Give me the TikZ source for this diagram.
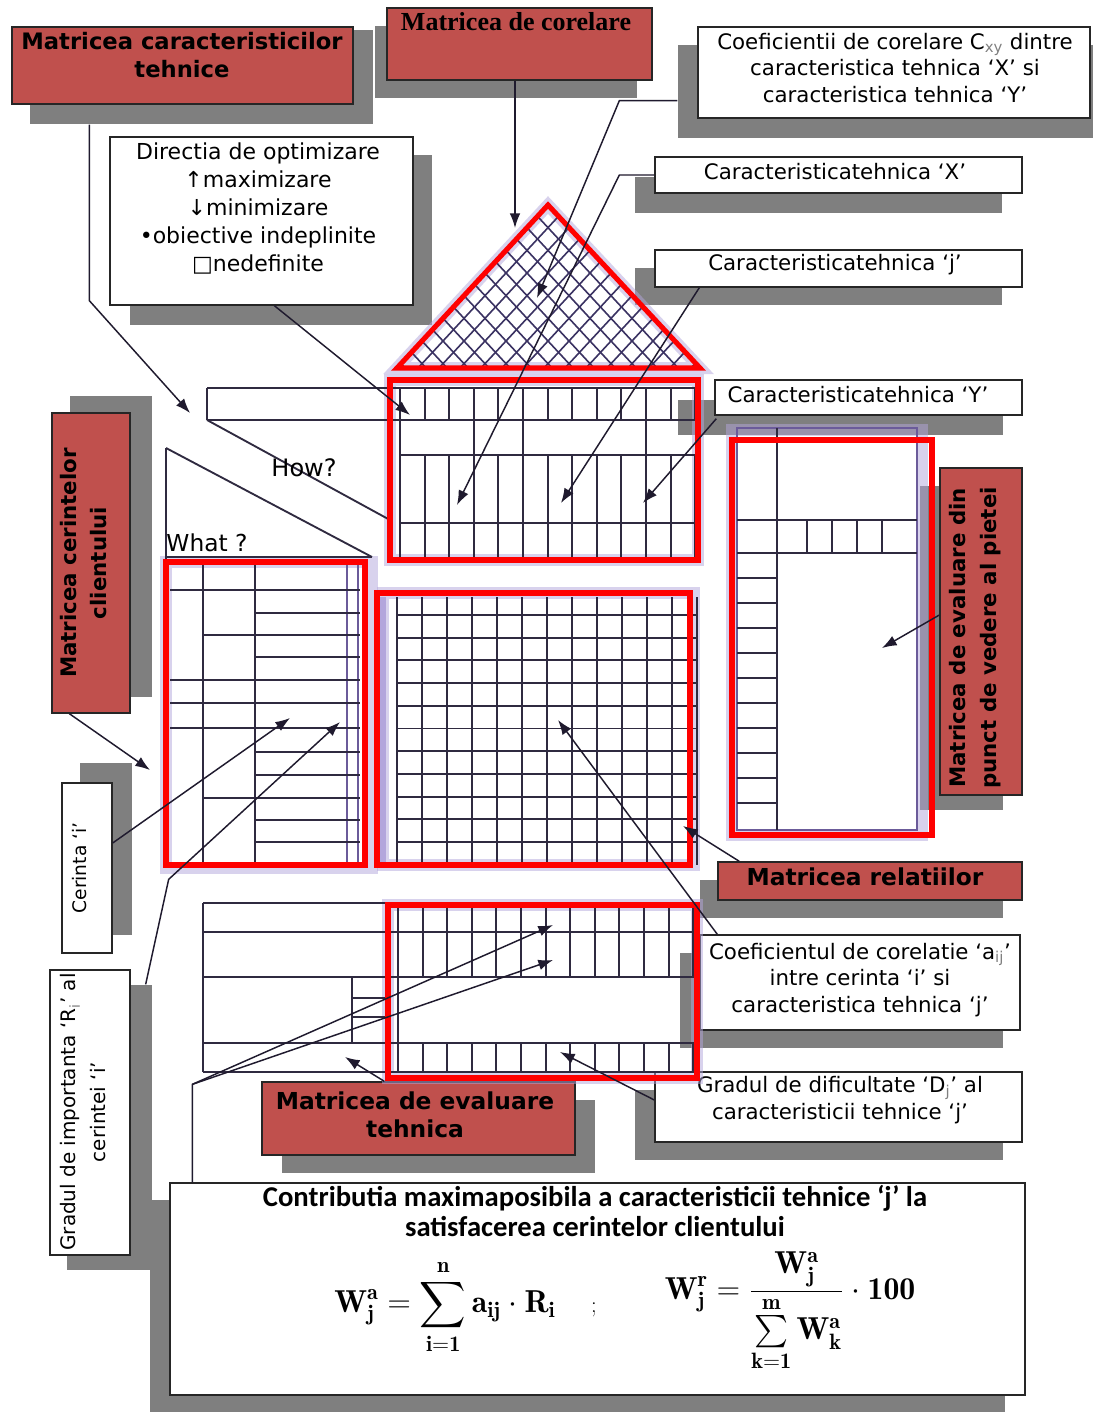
\documentclass[tikz,border=0pt]{standalone}
\usepackage{fontspec}
\usepackage{amsmath}
\usetikzlibrary{arrows.meta,calc}
\newfontfamily\lab{DejaVu Sans}
\newfontfamily\ttl{Carlito}
\newfontfamily\srf{Liberation Serif}
\newcommand\fs[2]{\fontsize{#1}{#2}\selectfont}
\newcommand\bb[1]{\mathbf{#1}}
\newcommand\formA{$\displaystyle\bb{W}^{\bb{a}}_{\bb{j}}=\sum_{\bb{i=1}}^{\bb{n}}\bb{a}_{\bb{ij}}\cdot\bb{R}_{\bb{i}}$}
\newcommand\formB{$\displaystyle\bb{W}^{\bb{r}}_{\bb{j}}=\frac{\bb{W}^{\bb{a}}_{\bb{j}}}{\sum\limits_{\bb{k=1}}^{\bb{m}}\bb{W}^{\bb{a}}_{\bb{k}}}\cdot\bb{100}$}
\definecolor{boxred}{HTML}{C0504D}
\definecolor{shgray}{HTML}{7F7F7F}
\definecolor{gline}{HTML}{2F2A40}
\definecolor{pline}{HTML}{6B5B9A}
\definecolor{glow}{HTML}{B3A6DC}
\definecolor{aline}{HTML}{1F1A2E}
\definecolor{hatchc}{HTML}{3A3262}
\tikzset{
  sz/.style 2 args={minimum width=#1*0.75pt, minimum height=#2*0.75pt},
  redbox/.style={draw=black!85, line width=1pt, fill=boxred, inner sep=0pt},
  whitebox/.style={draw=black!85, line width=1pt, fill=white, inner sep=0pt},
  shd/.style={fill=shgray},
  gl/.style={draw=gline, line width=1.4pt},
  pl/.style={draw=pline, line width=1.4pt},
  redg/.style={draw=red, line width=3.8pt},
  glowst/.style={draw=glow, line width=9pt, opacity=0.5},
  hatch/.style={draw=hatchc, line width=1.2pt},
  arr/.style={draw=aline, line width=1.1pt, -{Latex[length=11pt,width=8pt]}},
  txt/.style={inner sep=0pt, align=center, font=\lab\fs{16}{20}},
  btxt/.style={inner sep=0pt, align=center, font=\lab\bfseries\fs{17}{21}},
  fml/.style={inner sep=0pt, font=\rmfamily\fs{17}{21}},
}
\begin{document}
\begin{tikzpicture}[x=0.75pt,y=-0.75pt]
\useasboundingbox (0,0) rectangle (1093,1412);
\fill[white] (0,0) rectangle (1093,1412);

% ---------------- shadows ----------------
\fill[shd] (30,30) rectangle (373,124);
\fill[shd] (375,26) rectangle (637,98);
\fill[shd] (678,45) rectangle (1093,138);
\fill[shd] (130,155) rectangle (432,325);
\fill[shd] (635,177) rectangle (1002,213);
\fill[shd] (635,268) rectangle (1002,305);
\fill[shd] (678,400) rectangle (1003,435);
\fill[shd] (70,396) rectangle (152,697);
\fill[shd] (80,763) rectangle (132,935);
\fill[shd] (67,985) rectangle (152,1270);
\fill[shd] (920,486) rectangle (1003,810);
\fill[shd] (700,880) rectangle (1003,918);
\fill[shd] (680,953) rectangle (1003,1048);
\fill[shd] (635,1090) rectangle (1003,1160);
\fill[shd] (282,1100) rectangle (595,1173);
\fill[shd] (150,1200) rectangle (1005,1412);

% ---------------- boxes ----------------
\node[redbox, sz={341}{77}] (A) at (182.5,65.5) {};
\node[btxt] (At) at (182,55) {Matricea caracteristicilor\\tehnice};

\node[redbox, sz={265}{72}] (B) at (519.5,44) {};
\node[inner sep=0pt, font=\srf\bfseries\fs{19.5}{21}] (Bt) at (516,22) {Matricea de corelare};

\node[whitebox, sz={392}{91}] (C) at (894,72.5) {};
\node[txt] (Ct) at (895,68) {Coeficientii de corelare C\textsubscript{\color{gray}xy} dintre\\caracteristica tehnica ‘X’ si\\caracteristica tehnica ‘Y’};

\node[whitebox, sz={303}{168}] (D) at (261.5,221) {};
\node[txt, font=\lab\fs{16.5}{21}] (Dt) at (258,208) {Directia de optimizare\\↑maximizare\\↓minimizare\\•obiective indeplinite\\□nedefinite};

\node[whitebox, sz={367}{36}] (E) at (838.5,175) {};
\node[txt] (Et) at (835,172) {Caracteristicatehnica ‘X’};

\node[whitebox, sz={367}{37}] (F) at (838.5,268.5) {};
\node[txt] (Ft) at (835,265) {Caracteristicatehnica ‘j’};

\node[whitebox, sz={307}{35}] (G) at (868.5,397.5) {};
\node[txt] (Gt) at (858,395) {Caracteristicatehnica ‘Y’};

\node[redbox, sz={78}{300}] (H) at (91,563) {};
\node[btxt, font=\lab\bfseries\fs{16}{22.5}, rotate=90] (Ht) at (84,563) {Matricea cerintelor\\clientului};

\node[whitebox, sz={50}{170}] (I) at (87,868) {};
\node[txt, font=\lab\fs{14}{20}, rotate=90] (It) at (80,868) {Cerinta ‘i’};

\node[whitebox, sz={80}{285}] (J) at (90,1112.5) {};
\node[txt, font=\lab\fs{15}{22}, rotate=90] (Jt) at (83,1112) {Gradul de importanta ‘R\textsubscript{\color{gray}i}’ al\\cerintei ‘i’};

\node[redbox, sz={82}{327}] (K) at (981,631.5) {};
\node[btxt, font=\lab\bfseries\fs{16}{23}, rotate=90] (Kt) at (975,638) {Matricea de evaluare din\\punct de vedere al pietei};

\node[redbox, sz={304}{38}] (L) at (870,881) {};
\node[btxt, font=\lab\bfseries\fs{17.5}{21}] (Lt) at (865,877) {Matricea relatiilor};

\node[whitebox, sz={320}{95}] (M) at (860,982.5) {};
\node[txt] (Mt) at (860,980) {Coeficientul de corelatie ‘a\textsubscript{\color{gray}ij}’\\intre cerinta ‘i’ si\\caracteristica tehnica ‘j’};

\node[whitebox, sz={367}{70}] (N) at (838.5,1107) {};
\node[txt] (Nt) at (840,1100) {Gradul de dificultate ‘D\textsubscript{\color{gray}j}’ al\\caracteristicii tehnice ‘j’};

\node[redbox, sz={313}{73}] (O) at (418.5,1118.5) {};
\node[btxt, font=\lab\bfseries\fs{17.5}{21}] (Ot) at (415,1115) {Matricea de evaluare\\tehnica};

\node[whitebox, sz={855}{212}] (P) at (597.5,1289) {};
\node[inner sep=0pt, align=center, font=\ttl\bfseries\fs{21.5}{22}] (Pt) at (595,1211) {Contributia maximaposibila a caracteristicii tehnice ‘j’ la\\satisfacerea cerintelor clientului};
\node[fml] (Fa) at (445,1307) {\scalebox{1.4}{\formA}};
\node[fml] (Fsemi) at (594,1310) {;};
\node[fml] (Fb) at (790,1312) {\scalebox{1.4}{\formB}};

% ---------------- glow ----------------
\draw[glowst] (397,368) -- (548,205) -- (700,368) -- cycle;
\draw[glowst] (390,380) rectangle (698,560);
\draw[glowst] (166,562) rectangle (372,868);
\draw[glowst] (383,593) rectangle (694,865);
\draw[glowst] (732,430) rectangle (922,835);
\draw[glowst] (388,905) rectangle (697,1078);

% ---------------- triangle (correlation matrix) ----------------
\begin{scope}
\clip (397,368) -- (548,205) -- (700,368) -- cycle;
\foreach \i in {-10,...,18} {
  \draw[hatch] ({548+21*\i+151},42) -- ({548+21*\i-302},531);
  \draw[hatch] ({548-21*\i-151},42) -- ({548-21*\i+302},531);
}
\end{scope}
\draw[redg, line join=miter] (397,368) -- (548,205) -- (700,368) -- cycle;

% ---------------- top grid (How?) ----------------
\draw[gl] (207,388) -- (698,388);
\draw[gl] (207,420) -- (698,420);
\draw[gl] (207,388) -- (207,420);
\draw[gl] (400,455) -- (698,455);
\draw[gl] (400,523) -- (698,523);
\foreach \k in {0,...,12} {
  \draw[gl] ({400+24.6*\k},388) -- ({400+24.6*\k},420);
  \draw[gl] ({400+24.6*\k},455) -- ({400+24.6*\k},560);
}
\foreach \k in {0,3,5,10} \draw[gl] ({400+24.6*\k},420) -- ({400+24.6*\k},455);
\draw[gl] (207,420) -- (390,520);
\node[txt, font=\lab\fs{18}{20}] (how) at (304,468) {How?};
\draw[redg] (390,380) rectangle (698,560);

% ---------------- left grid (What?) ----------------
\draw[gl] (166,448) -- (166,560);
\draw[gl] (166,448) -- (372,557);
\draw[gl] (166,557) -- (372,557);
\node[txt, font=\lab\fs{17.5}{20}] (what) at (207,543) {What ?};
\draw[gl] (203,562) -- (203,865);
\draw[gl] (255,562) -- (255,865);
\draw[pl] (347,562) -- (347,865);
\draw[pl] (358,562) -- (358,865);
\foreach \y/\xs in {590/170,613/255,635/203,657/255,680/170,703/170,728/170,752/255,775/255,798/203,820/255,842/255}
  \draw[gl] (\xs,\y) -- (360,\y);
\draw[redg] (166,562) rectangle (365,865);

% ---------------- central grid (relations) ----------------
\draw[glow, line width=5pt] (383,597) -- (383,868);
\foreach \k in {0,...,12} \draw[gl] ({397+25*\k},597) -- ({397+25*\k},865);
\foreach \j in {0,...,10} \draw[gl] (397,{615+22.7*\j}) -- (697,{615+22.7*\j});
\draw[redg] (377,593) rectangle (690,865);

% ---------------- right grid (market evaluation) ----------------
\draw[pl] (737,428) rectangle (917,830);
\draw[gl] (777,428) -- (777,830);
\draw[gl] (737,520) -- (917,520);
\draw[gl] (737,553) -- (917,553);
\foreach \x in {807,832,857,882} \draw[gl] (\x,520) -- (\x,553);
\foreach \j in {0,...,9} \draw[gl] (737,{578+25*\j}) -- (777,{578+25*\j});
\draw[redg] (732,440) rectangle (932,835);

% ---------------- bottom grid (technical evaluation) ----------------
\foreach \y in {903,932,977,1043,1072} \draw[gl] (203,\y) -- (697,\y);
\draw[gl] (203,903) -- (203,1072);
\draw[gl] (352,977) -- (352,1043);
\draw[gl] (352,998) -- (390,998);
\draw[gl] (352,1017) -- (390,1017);
\foreach \k in {0,...,12} {
  \draw[gl] ({398+24.6*\k},905) -- ({398+24.6*\k},977);
  \draw[gl] ({398+24.6*\k},1043) -- ({398+24.6*\k},1072);
}
\draw[gl] (398,905) -- (398,1072);
\draw[redg] (388,905) rectangle (697,1078);

% ---------------- connector targets ----------------
\coordinate (tTri) at (537,298);
\coordinate (tX) at (457,505);
\coordinate (tY1) at (561,503);
\coordinate (tY2) at (643,503);
\coordinate (tB) at (515,228);
\coordinate (tBar) at (190,413);
\coordinate (tD) at (410,415);
\coordinate (tH) at (150,770);
\coordinate (tI) at (290,718);
\coordinate (tJ) at (340,722);
\coordinate (tK) at (882,648);
\coordinate (tL) at (683,826);
\coordinate (tM) at (558,720);
\coordinate (tN) at (560,1052);
\coordinate (tO) at (345,1057);
\coordinate (tP1) at (553,925);
\coordinate (tP2) at (553,960);

% ---------------- connectors ----------------
\draw[arr] ($(B.south)+(-4.5,0)$) -- (tB);
\draw[arr] ($(A.south west)+(78,20)$) -- ++(0,176) -- (tBar);
\draw[arr] ($(D.south west)+(165,0)$) -- (tD);
\draw[arr] ($(C.south west)+(-20,-18)$) -- ++(-58,0) -- (tTri);
\draw[arr] (E.west) -- ++(-35,0) -- (tX);
\draw[arr] ($(F.south west)+(45,0)$) -- (tY1);
\draw[arr] ($(G.south west)+(2,3)$) -- (tY2);
\draw[arr] ($(H.south west)+(18,0)$) -- (tH);
\draw[arr] ($(I.east)+(0,-25)$) -- (tI);
\draw[arr] ($(J.north east)+(15,15)$) -- ++(23,-105) -- (tJ);
\draw[arr] ($(K.west)+(0,-16.5)$) -- (tK);
\draw[arr] ($(L.north west)+(22,0)$) -- (tL);
\draw[arr] ($(M.north west)+(18,0)$) -- (tM);
\draw[arr] ($(N.west)+(0,-7)$) -- (tN);
\draw[arr] ($(O.north west)+(123,0)$) -- (tO);
\draw[arr] ($(P.north west)+(23,0)$) -- ++(0,-98) -- (tP1);
\draw[arr] ($(P.north west)+(23,-98)$) -- (tP2);
\end{tikzpicture}
\end{document}
